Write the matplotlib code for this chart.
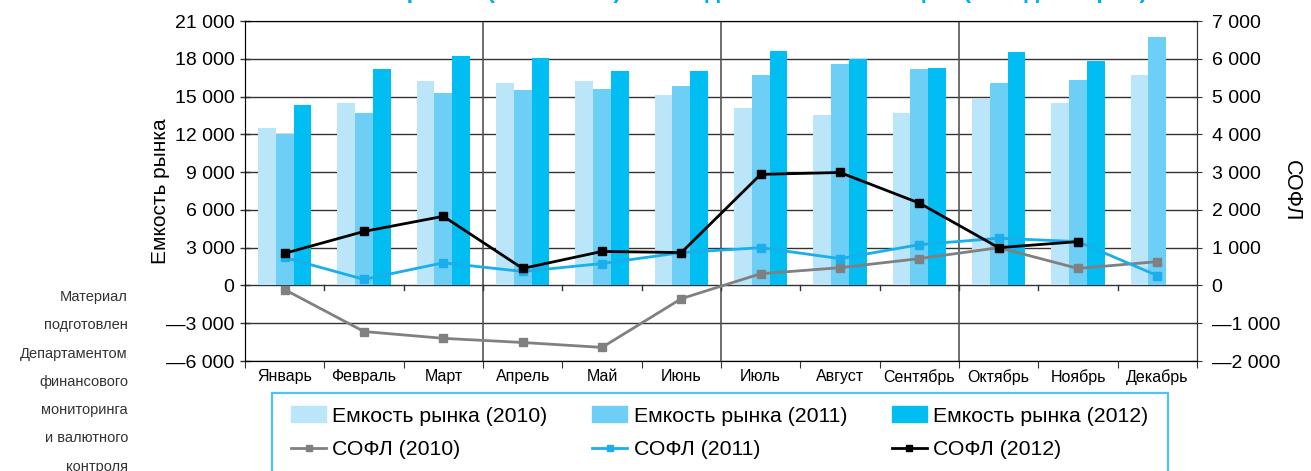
import matplotlib.pyplot as plt
import matplotlib.patches as mpatches
import matplotlib.lines as mlines
import numpy as np

plt.rcParams['font.family'] = ['Liberation Sans', 'DejaVu Sans']

# данные
months = ['Январь', 'Февраль', 'Март', 'Апрель', 'Май', 'Июнь',
          'Июль', 'Август', 'Сентябрь', 'Октябрь', 'Ноябрь', 'Декабрь']
emk_2010 = [12500, 14500, 16200, 16100, 16200, 15100, 14100, 13500, 13700, 14800, 14500, 16700]
emk_2011 = [12000, 13700, 15300, 15500, 15600, 15800, 16700, 17600, 17200, 16100, 16300, 19700]
emk_2012 = [14300, 17200, 18200, 18100, 17000, 17000, 18600, 18000, 17300, 18500, 17800, np.nan]
sofl_2010 = [-110, -1220, -1400, -1510, -1640, -350, 310, 470, 710, 1000, 450, 630]
sofl_2011 = [740, 160, 600, 370, 580, 870, 1000, 710, 1080, 1250, 1160, 260]
sofl_2012 = [850, 1430, 1830, 450, 900, 870, 2940, 2990, 2180, 1000, 1160, np.nan]

left_ticks = list(range(-6000, 21001, 3000))
right_ticks = list(range(-2000, 7001, 1000))

c10, c11, c12 = '#bbe5f8', '#6dcff6', '#00bdf2'
lc10, lc11, lc12 = '#808080', '#1aaeea', '#000000'


def fmt(v):
    s = '{:,}'.format(abs(v)).replace(',', ' ')
    return ('—' + s) if v < 0 else s


fig = plt.figure(figsize=(13.11, 4.71), dpi=100)
ax = fig.add_axes([245 / 1311, 1 - 361 / 471, 952 / 1311, 340 / 471])

x = np.arange(12)
w = 0.225
ax.bar(x - w, emk_2010, w, color=c10, zorder=2)
ax.bar(x, emk_2011, w, color=c11, zorder=2)
ax.bar(x + w, emk_2012, w, color=c12, zorder=2)

ax.set_xlim(-0.5, 11.5)
ax.set_ylim(-6000, 21000)
ax.set_yticks(left_ticks)
ax.set_yticklabels([fmt(v) for v in left_ticks], fontsize=14)
ax.tick_params(axis='y', direction='inout', length=7, width=1, color='#333333', pad=4)
for v in left_ticks:
    ax.axhline(v, color='#333333', lw=1.0, zorder=1)
for b in [2.5, 5.5, 8.5]:
    ax.axvline(b, color='#555555', lw=1.2, zorder=1)

# засечки категорий на нулевой линии
for b in np.arange(0.5, 11, 1):
    ax.plot([b, b], [0, -350], color='#333333', lw=1, zorder=3)

ax.set_xticks(np.arange(-0.5, 12, 1), minor=False)
ax.set_xticklabels([])
ax.tick_params(axis='x', direction='out', length=5, color='#333333')
ax.set_xticks(x, minor=True)
ax.set_xticklabels(months, minor=True, fontsize=11.5)
ax.tick_params(axis='x', which='minor', length=0, pad=6)
for sp in ax.spines.values():
    sp.set_color('#333333')
ax.spines['top'].set_color('#777777')
ax.set_ylabel('Емкость рынка', fontsize=15, labelpad=-3)

ax2 = ax.twinx()
ax2.set_ylim(-2000, 7000)
ax2.set_yticks(right_ticks)
ax2.set_yticklabels([fmt(v) for v in right_ticks], fontsize=14)
ax2.tick_params(axis='y', direction='inout', length=7, color='#333333', pad=7)
ax2.spines['right'].set_color('#333333')
ax2.set_ylabel('СОФЛ', fontsize=15.5, rotation=270, labelpad=16)

ax2.plot(x, sofl_2010, color=lc10, lw=2, marker='s', ms=6, zorder=4)
ax2.plot(x, sofl_2011, color=lc11, lw=2, marker='s', ms=6, zorder=4)
ax2.plot(x, sofl_2012, color=lc12, lw=2, marker='s', ms=6, zorder=5)

# заголовок (обрезан сверху)
fig.text(725 / 1311, 1 + 2 / 471,
         'Емкость рынка (2010–2012) и сальдо СОФЛ по месяцам (млн долларов)',
         ha='center', va='baseline', fontsize=17, fontweight='bold', color='#00aeef')

# подпись слева
note = ['Материал', 'подготовлен', 'Департаментом', 'финансового',
        'мониторинга', 'и валютного', 'контроля']
for i, s in enumerate(note):
    fig.text(128 / 1311, 1 - (297 + i * 28.3) / 471, s, ha='right', va='center',
             fontsize=10.5, color='#333333',
             family=['Liberation Sans Narrow', 'Liberation Sans', 'DejaVu Sans'])

# рамка легенды (уходит за нижний край)
fig.patches.append(mpatches.Rectangle((272 / 1311, -0.05), 896 / 1311, 0.05 + 78 / 471,
                                      transform=fig.transFigure, fill=False,
                                      edgecolor='#4fc3f7', lw=1.6))

handles = [
    mpatches.Patch(color=c10, label='Емкость рынка (2010)'),
    mlines.Line2D([], [], color=lc10, lw=2, marker='s', ms=5, label='СОФЛ (2010)'),
    mpatches.Patch(color=c11, label='Емкость рынка (2011)'),
    mlines.Line2D([], [], color=lc11, lw=2, marker='s', ms=5, label='СОФЛ (2011)'),
    mpatches.Patch(color=c12, label='Емкость рынка (2012)'),
    mlines.Line2D([], [], color=lc12, lw=2, marker='s', ms=5, label='СОФЛ (2012)'),
]
leg = fig.legend(handles=handles, ncol=3, loc='upper left',
                 bbox_to_anchor=(291 / 1311, 1 - 406 / 471),
                 fontsize=15.3, frameon=False, borderaxespad=0, borderpad=0,
                 handlelength=1.65, handleheight=0.8, handletextpad=0.3,
                 labelspacing=0.68, columnspacing=2.1)

fig.savefig('out.png', dpi=100)
